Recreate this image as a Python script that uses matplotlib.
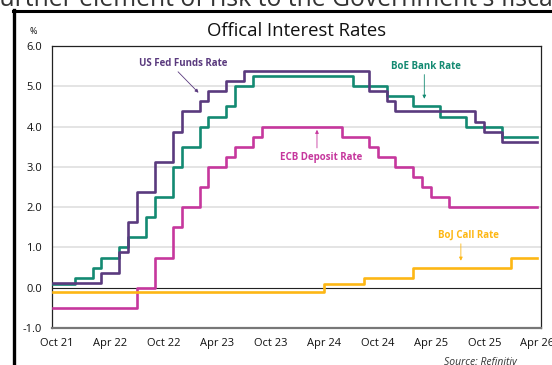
import matplotlib
matplotlib.use("Agg")
import matplotlib.pyplot as plt
import pandas as pd

plt.rcParams['font.family'] = ['Open Sans', 'DejaVu Sans']

# step series: date the rate changed, new level (last point closes the line)
fed_dates = ['2021-09-17', '2022-03-01', '2022-05-01', '2022-06-01', '2022-07-01',
             '2022-09-01', '2022-11-01', '2022-12-01', '2023-02-01', '2023-03-01',
             '2023-05-01', '2023-07-01', '2024-09-01', '2024-11-01', '2024-12-01',
             '2025-09-01', '2025-10-01', '2025-12-01', '2026-04-01']
fed_vals = [0.125, 0.375, 0.875, 1.625, 2.375, 3.125, 3.875, 4.375, 4.625, 4.875,
            5.125, 5.375, 4.875, 4.625, 4.375, 4.125, 3.875, 3.625, 3.625]

boe_dates = ['2021-09-17', '2021-12-01', '2022-02-01', '2022-03-01', '2022-05-01',
             '2022-06-01', '2022-08-01', '2022-09-01', '2022-11-01', '2022-12-01',
             '2023-02-01', '2023-03-01', '2023-05-01', '2023-06-01', '2023-08-01',
             '2024-07-10', '2024-11-01', '2025-02-01', '2025-05-01', '2025-08-01',
             '2025-12-01', '2026-04-01']
boe_vals = [0.1, 0.25, 0.5, 0.75, 1.0, 1.25, 1.75, 2.25, 3.0, 3.5, 4.0, 4.25, 4.5,
            5.0, 5.25, 5.0, 4.75, 4.5, 4.25, 4.0, 3.75, 3.75]

ecb_dates = ['2021-09-17', '2022-07-01', '2022-09-01', '2022-11-01', '2022-12-01',
             '2023-02-01', '2023-03-01', '2023-05-01', '2023-06-01', '2023-08-01',
             '2023-09-01', '2024-06-01', '2024-09-01', '2024-10-01', '2024-12-01',
             '2025-02-01', '2025-03-01', '2025-04-01', '2025-06-01', '2026-04-01']
ecb_vals = [-0.5, 0.0, 0.75, 1.5, 2.0, 2.5, 3.0, 3.25, 3.5, 3.75, 4.0, 3.75, 3.5,
            3.25, 3.0, 2.75, 2.5, 2.25, 2.0, 2.0]

boj_dates = ['2021-09-17', '2024-04-01', '2024-08-15', '2025-02-01', '2026-01-01',
             '2026-04-01']
boj_vals = [-0.1, 0.1, 0.25, 0.5, 0.75, 0.75]

tick_dates = ['2021-10-01', '2022-04-01', '2022-10-01', '2023-04-01', '2023-10-01',
              '2024-04-01', '2024-10-01', '2025-04-01', '2025-10-01', '2026-04-01']
tick_labels = ['Oct 21', 'Apr 22', 'Oct 22', 'Apr 23', 'Oct 23', 'Apr 24', 'Oct 24',
               'Apr 25', 'Oct 25', 'Apr 26']

purple = '#5a3a7e'
green = '#138a72'
magenta = '#c6379d'
yellow = '#fdb714'

fig = plt.figure(figsize=(5.52, 3.65), dpi=100)
ax = fig.add_axes([52/552, 37/365, 489/552, 282/365])

d = pd.to_datetime
ax.plot(d(ecb_dates), ecb_vals, drawstyle='steps-post', color=magenta, lw=1.9, zorder=3)
ax.plot(d(boj_dates), boj_vals, drawstyle='steps-post', color=yellow, lw=1.9, zorder=3)
ax.plot(d(boe_dates), boe_vals, drawstyle='steps-post', color=green, lw=1.9, zorder=4)
ax.plot(d(fed_dates), fed_vals, drawstyle='steps-post', color=purple, lw=1.9, zorder=5)

ax.axhline(0, color='#222222', lw=0.8, zorder=2)
for g in [1, 2, 3, 4, 5]:
    ax.axhline(g, color='#dddddd', lw=1.1, zorder=1)

ax.set_xlim(d('2021-09-14'), d('2026-04-13'))
ax.set_ylim(-1, 6)
ax.set_yticks([-1, 0, 1, 2, 3, 4, 5, 6])
ax.set_yticklabels(['-1.0', '0.0', '1.0', '2.0', '3.0', '4.0', '5.0', '6.0'])
ax.set_xticks(d(tick_dates))
ax.set_xticklabels(tick_labels)
ax.tick_params(length=0, labelsize=8, colors='#111111')
ax.tick_params(axis='y', pad=7)
ax.tick_params(axis='x', pad=7)

for s in ['top', 'right', 'left']:
    ax.spines[s].set_color('#222222')
    ax.spines[s].set_linewidth(0.9)
ax.spines['bottom'].set_color('#777777')
ax.spines['bottom'].set_linewidth(1.6)

# labels with small arrows
def label(txt, tx, ty, tail, head, col):
    ax.text(d(tx), ty, txt, color=col, fontsize=7, fontweight='bold',
            ha='center', va='center', zorder=6)
    ax.annotate('', xy=(d(head[0]), head[1]), xytext=(d(tail[0]), tail[1]),
                arrowprops=dict(arrowstyle='-|>', color=col, lw=0.6,
                                mutation_scale=5, shrinkA=0, shrinkB=0))

label('US Fed Funds Rate', '2022-12-07', 5.56, ('2022-11-19', 5.36), ('2023-01-28', 4.84), purple)
label('BoE Bank Rate', '2025-03-16', 5.48, ('2025-03-10', 5.29), ('2025-03-10', 4.69), green)
label('ECB Deposit Rate', '2024-03-21', 3.23, ('2024-03-08', 3.47), ('2024-03-08', 3.92), magenta)
label('BoJ Call Rate', '2025-08-09', 1.30, ('2025-07-13', 1.09), ('2025-07-13', 0.67), yellow)

fig.text(297/552, 1 - 31.5/365, 'Offical Interest Rates', fontsize=13.3,
         ha='center', va='center', color='#111111')
fig.text(33/552, 1 - 31/365, '%', fontsize=6.5, ha='center', va='center', color='#111111')
fig.text(480/552, 1 - 362/365, 'Source: Refinitiv', fontsize=7.5, style='italic',
         ha='center', va='center', color='#333333')

# surrounding page: box edge and the line of text above it
fig.text(-9/552, 1 - 6/365, "further element of risk to the Government's fiscal",
         fontsize=17.8, ha='left', va='baseline', color='#333333')
fig.add_artist(plt.Line2D([14/552, 14/552], [0, 1 - 10/365], color='black', lw=2.4,
                          transform=fig.transFigure))
fig.add_artist(plt.Line2D([13/552, 1], [1 - 10.5/365, 1 - 10.5/365], color='black', lw=2.2,
                          transform=fig.transFigure))

fig.savefig('out.png', dpi=100)
